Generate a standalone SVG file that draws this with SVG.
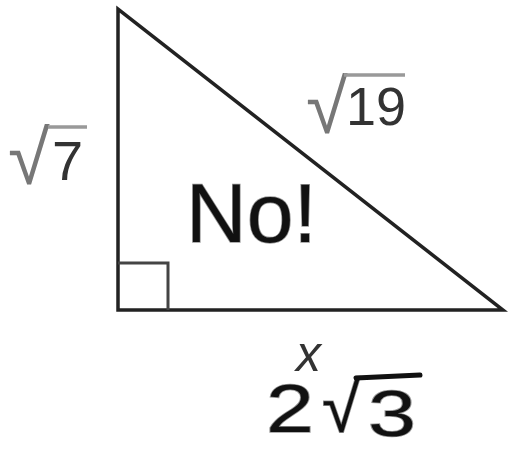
<svg xmlns="http://www.w3.org/2000/svg" width="508" height="450" viewBox="0 0 508 450">
<style>
.edge{stroke:#222;stroke-width:3.5;fill:none;stroke-linecap:square}
.box{stroke:#444;stroke-width:3;fill:none}
.lbl{font-family:"Liberation Sans",Arial,sans-serif;fill:#333}
.rad{font-family:"Liberation Sans",Arial,sans-serif;fill:#777}
.bar{stroke:#999;stroke-width:3.5}
.hand{font-family:"Liberation Sans",Arial,sans-serif;fill:#111;stroke:#999;stroke-width:1.5;paint-order:stroke}
.hbar{stroke:#111;stroke-width:5;stroke-linecap:round}
</style>
<rect width="508" height="450" fill="#fff"/>
<g id="triangle">
<polygon class="edge" points="118,9 118,310 503,310"/>
<polyline class="box" points="118,263 168,263 168,310"/>
</g>
<g id="label-sqrt7">
<text class="rad" x="8" y="184" font-size="76">√</text>
<line class="bar" x1="48" y1="127" x2="87" y2="127"/>
<text class="lbl" x="52" y="180" font-size="56">7</text>
</g>
<g id="label-sqrt19">
<text class="rad" x="306" y="133" font-size="76">√</text>
<line class="bar" x1="344" y1="75" x2="405" y2="75"/>
<text class="lbl" x="346" y="125" font-size="54">19</text>
</g>
<g id="label-x">
<text class="lbl" x="296" y="371" font-size="50" font-style="italic">x</text>
</g>
<g id="note-no">
<text class="hand" x="186" y="242" font-size="84">No!</text>
</g>
<g id="note-2sqrt3">
<text class="hand" x="266" y="432" font-size="68" textLength="48" lengthAdjust="spacingAndGlyphs">2</text>
<text class="hand" x="322" y="432" font-size="70">√</text>
<line class="hbar" x1="356" y1="378" x2="420" y2="375"/>
<text class="hand" x="368" y="436" font-size="64" textLength="48" lengthAdjust="spacingAndGlyphs">3</text>
</g>
</svg>
